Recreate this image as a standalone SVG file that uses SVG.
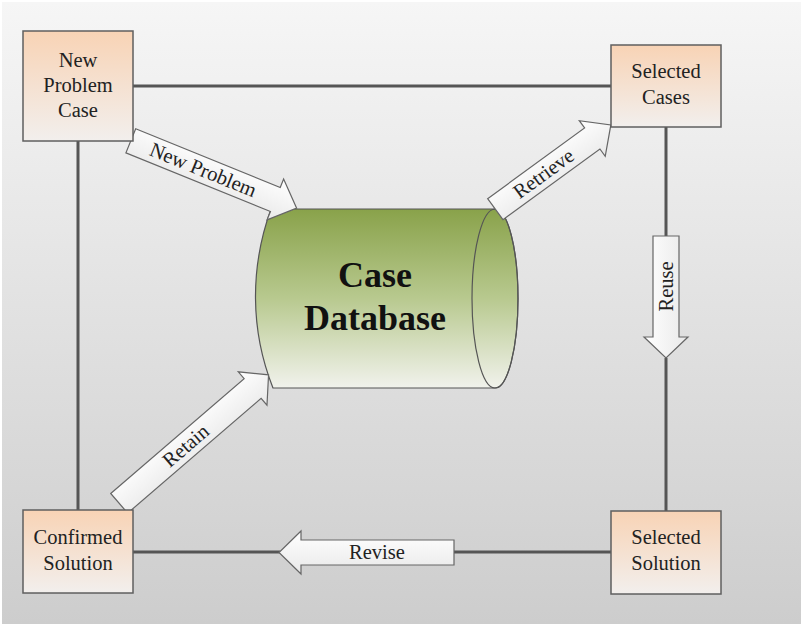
<svg xmlns="http://www.w3.org/2000/svg" width="801" height="626" viewBox="0 0 801 626">
  <defs>
    <linearGradient id="bg" x1="0" y1="0" x2="0" y2="1">
      <stop offset="0" stop-color="#f6f6f6"/>
      <stop offset="1" stop-color="#cdcdcd"/>
    </linearGradient>
    <linearGradient id="nodeFill" x1="0" y1="0" x2="0" y2="1">
      <stop offset="0" stop-color="#f8d3b5"/>
      <stop offset="1" stop-color="#f2efed"/>
    </linearGradient>
    <linearGradient id="dbFill" x1="0" y1="0" x2="0" y2="1">
      <stop offset="0" stop-color="#89a24a"/>
      <stop offset="0.5" stop-color="#b8c98f"/>
      <stop offset="1" stop-color="#f1f2ec"/>
    </linearGradient>
    <linearGradient id="arrowFill" x1="0" y1="0" x2="0" y2="1">
      <stop offset="0" stop-color="#ffffff"/>
      <stop offset="1" stop-color="#e9e9e9"/>
    </linearGradient>
    <linearGradient id="arrowFillH" x1="0" y1="0" x2="1" y2="0">
      <stop offset="0" stop-color="#ffffff"/>
      <stop offset="1" stop-color="#e9e9e9"/>
    </linearGradient>
  </defs>
  <style>
    .box { fill: url(#nodeFill); stroke: #5f5f5f; stroke-width: 1.5; }
    .lbl { font-family: "Liberation Serif", "Times New Roman", serif; font-size: 20.5px; fill: #222; text-anchor: middle; }
    .link { stroke: #555; stroke-width: 3; fill: none; }
    .block { fill: url(#arrowFill); stroke: #666; stroke-width: 1.2; stroke-linejoin: miter; }
    .title { font-family: "Liberation Serif", "Times New Roman", serif; font-size: 36px; font-weight: bold; fill: #111; text-anchor: middle; }
  </style>

  <!-- backdrop -->
  <rect x="0" y="0" width="801" height="626" fill="#ffffff"/>
  <rect x="2" y="2" width="799" height="622" fill="url(#bg)"/>

  <!-- connectors -->
  <g id="connectors">
    <line class="link" x1="133" y1="86" x2="611" y2="86"/>
    <line class="link" x1="78" y1="141" x2="78" y2="510"/>
    <line class="link" x1="666" y1="127" x2="666" y2="236"/>
    <line class="link" x1="666" y1="358" x2="666" y2="511"/>
    <line class="link" x1="133" y1="552" x2="280" y2="552"/>
    <line class="link" x1="454" y1="552" x2="611" y2="552"/>
  </g>

  <!-- central store -->
  <g id="case-database">
    <path d="M271,209 L495,209 A23,89.5 0 0 1 495,388 L273,388 C250,330 250,267 271,209 Z" fill="url(#dbFill)" stroke="#555" stroke-width="1.2"/>
    <ellipse cx="495" cy="298.5" rx="23" ry="89.5" fill="none" stroke="#555" stroke-width="1.2"/>
    <text class="title" x="375" y="287">Case</text>
    <text class="title" x="375" y="330">Database</text>
  </g>

  <!-- process arrows -->
  <g id="arrow-new-problem" transform="translate(130.8,140.8) rotate(22.1)">
    <path class="block" d="M0,-13 L156,-13 L156,-22 L179,0 L156,22 L156,13 L0,13 Z"/>
    <text class="lbl" x="78" y="6.5">New Problem</text>
  </g>
  <g id="arrow-retrieve" transform="translate(495.3,209.2) rotate(-36.1)">
    <path class="block" d="M0,-13 L120,-13 L120,-22 L143,0 L120,22 L120,13 L0,13 Z"/>
    <text class="lbl" x="60" y="6.5">Retrieve</text>
  </g>
  <g id="arrow-retain" transform="translate(119.2,503.3) rotate(-40.7)">
    <path class="block" d="M0,-13 L176,-13 L176,-22 L197,0 L176,22 L176,13 L0,13 Z"/>
    <text class="lbl" x="88" y="6.5">Retain</text>
  </g>
  <g id="arrow-reuse">
    <path class="block" style="fill:url(#arrowFillH)" d="M653,236 L679,236 L679,337 L688,337 L666,358 L644,337 L653,337 Z"/>
    <text class="lbl" transform="translate(666,286.5) rotate(-90)" x="0" y="6.5">Reuse</text>
  </g>
  <g id="arrow-revise">
    <path class="block" d="M454,540 L301,540 L301,531 L279,552.5 L301,574 L301,565 L454,565 Z"/>
    <text class="lbl" x="377" y="559">Revise</text>
  </g>

  <!-- case nodes -->
  <g id="new-problem-case">
    <rect class="box" x="23" y="31" width="110" height="110"/>
    <text class="lbl" x="78" y="66.5">New</text>
    <text class="lbl" x="78" y="91.5">Problem</text>
    <text class="lbl" x="78" y="116.5">Case</text>
  </g>
  <g id="selected-cases">
    <rect class="box" x="611" y="45" width="110" height="82"/>
    <text class="lbl" x="666" y="78">Selected</text>
    <text class="lbl" x="666" y="104">Cases</text>
  </g>
  <g id="confirmed-solution">
    <rect class="box" x="23" y="510" width="110" height="83"/>
    <text class="lbl" x="78" y="544">Confirmed</text>
    <text class="lbl" x="78" y="570">Solution</text>
  </g>
  <g id="selected-solution">
    <rect class="box" x="611" y="511" width="110" height="83"/>
    <text class="lbl" x="666" y="544">Selected</text>
    <text class="lbl" x="666" y="570">Solution</text>
  </g>
</svg>
